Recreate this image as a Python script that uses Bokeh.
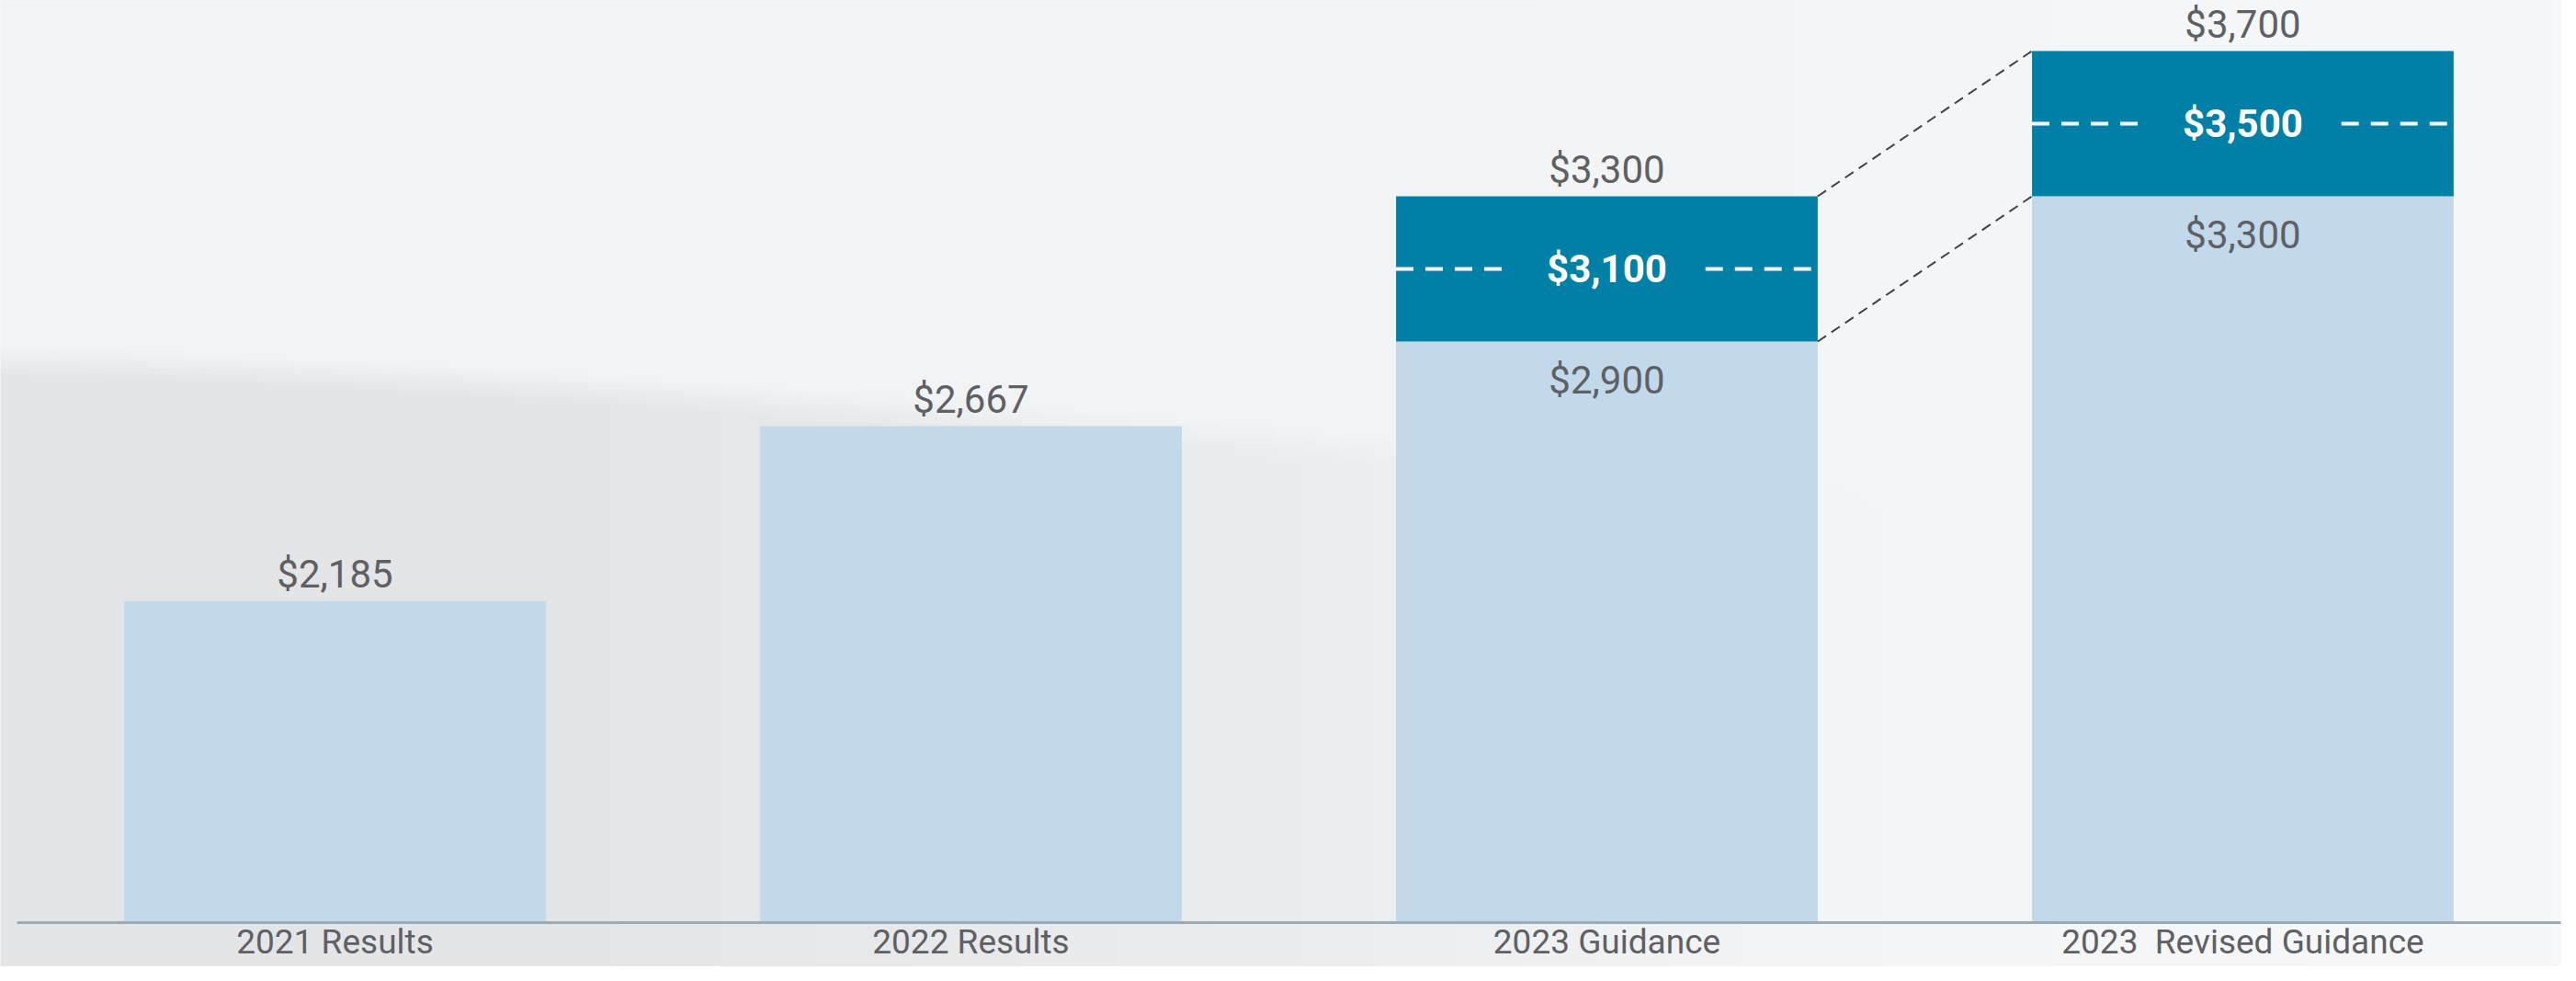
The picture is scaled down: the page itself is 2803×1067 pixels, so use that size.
import numpy as np
from bokeh.plotting import figure
from bokeh.models import Range1d
from bokeh.core.properties import value
from bokeh.embed import file_html
from bokeh.resources import INLINE

# ---- data ----
categories = ["2021 Results", "2022 Results", "2023 Guidance", "2023  Revised Guidance"]
results = [2185, 2667]            # 2021, 2022 actuals
guidance_low = [2900, 3300]       # 2023 Guidance, 2023 Revised Guidance
guidance_mid = [3100, 3500]
guidance_high = [3300, 3700]
axis_floor = 1300                 # truncated value axis start

# ---- style ----
LIGHT = "#c2d8eb"
DARK = "#0080a6"
GRAY = "#5e6063"
BG = "#f1f2f3"
FONT = "Roboto"
BAR_W = 0.663
GAP = 0.155

n = len(categories)
xs = list(range(n))
gx = xs[len(results):]
light_top = results + guidance_low

X0, X1 = -0.526, 3.5015
Y0, Y1 = 1178.5, 3839.2


def fmt(v):
    return "${:,}".format(v)


p = figure(width=2787, height=1051,
           x_range=Range1d(X0, X1), y_range=Range1d(Y0, Y1),
           output_backend="svg", toolbar_location=None, min_border=0)
p.axis.visible = False
p.grid.visible = False
p.outline_line_color = None
p.background_fill_color = BG
p.border_fill_color = BG

# soft decorative background shading (darker lower-left swoosh, lighter right)
H, W = 220, 400
u = np.linspace(0, 1, W)[None, :]
v = np.linspace(0, 1, H)[:, None]          # 0 = bottom, 1 = top
edge = 0.64 - 0.22 * u ** 1.4              # curved boundary of the darker area
below = np.clip((edge - v) / 0.03, 0, 1)
dark = below * np.clip((0.75 - u) / 0.55, 0, 1)
light = np.clip((u - 0.5) / 0.5, 0, 1)
g = 243 - 14 * dark + 5 * light
img = np.zeros((H, W), dtype=np.uint32)
view = img.view(dtype=np.uint8).reshape((H, W, 4))
view[:, :, 0] = np.clip(g - 1, 0, 255).astype(np.uint8)
view[:, :, 1] = np.clip(g, 0, 255).astype(np.uint8)
view[:, :, 2] = np.clip(g + 1, 0, 255).astype(np.uint8)
view[:, :, 3] = 255
p.image_rgba(image=[img], x=X0, y=Y0, dw=X1 - X0, dh=Y1 - Y0)

# bars
p.vbar(x=xs, bottom=axis_floor, top=light_top, width=BAR_W,
       fill_color=LIGHT, line_color=None)
p.vbar(x=gx, bottom=guidance_low, top=guidance_high, width=BAR_W,
       fill_color=DARK, line_color=None)

# dashed midpoint lines
lx0 = [c - BAR_W / 2 for c in gx]
lx1 = [c - GAP for c in gx]
rx0 = [c + GAP for c in gx]
rx1 = [c + BAR_W / 2 for c in gx]
p.segment(x0=lx0, x1=lx1, y0=guidance_mid, y1=guidance_mid,
          line_color="white", line_width=4, line_dash="19 13")
p.segment(x0=rx0, x1=rx1, y0=guidance_mid, y1=guidance_mid,
          line_color="white", line_width=4, line_dash="19 13")

# connectors between guidance ranges
p.segment(x0=[gx[0] + BAR_W / 2] * 2, x1=[gx[1] - BAR_W / 2] * 2,
          y0=[guidance_high[0], guidance_low[0]],
          y1=[guidance_high[1], guidance_low[1]],
          line_color="#444444", line_width=2, line_dash="11 7")

# baseline
p.segment(x0=[-0.5], x1=[n - 0.5], y0=[axis_floor], y1=[axis_floor],
          line_color="#9eabb6", line_width=3)

# labels above bars
top_vals = results + guidance_high
p.text(x=xs, y=top_vals, text=[fmt(t) for t in top_vals], y_offset=-29,
       text_align="center", text_baseline="middle", text_color=GRAY,
       text_font=value(FONT), text_font_size="42px")
# labels inside light bars (low end of range)
p.text(x=gx, y=guidance_low, text=[fmt(t) for t in guidance_low], y_offset=42,
       text_align="center", text_baseline="middle", text_color=GRAY,
       text_font=value(FONT), text_font_size="42px")
# midpoint labels
p.text(x=gx, y=guidance_mid, text=[fmt(t) for t in guidance_mid], y_offset=0,
       text_align="center", text_baseline="middle", text_color="white",
       text_font=value(FONT), text_font_size="42px", text_font_style="bold")
# category labels (keep the double space visible in SVG)
cat_text = [c.replace("  ", " \u00a0") for c in categories]
p.text(x=xs, y=[axis_floor] * n, text=cat_text, y_offset=21,
       text_align="center", text_baseline="middle", text_color=GRAY,
       text_font=value(FONT), text_font_size="37px")

open("out.html", "w").write(file_html(p, INLINE))
